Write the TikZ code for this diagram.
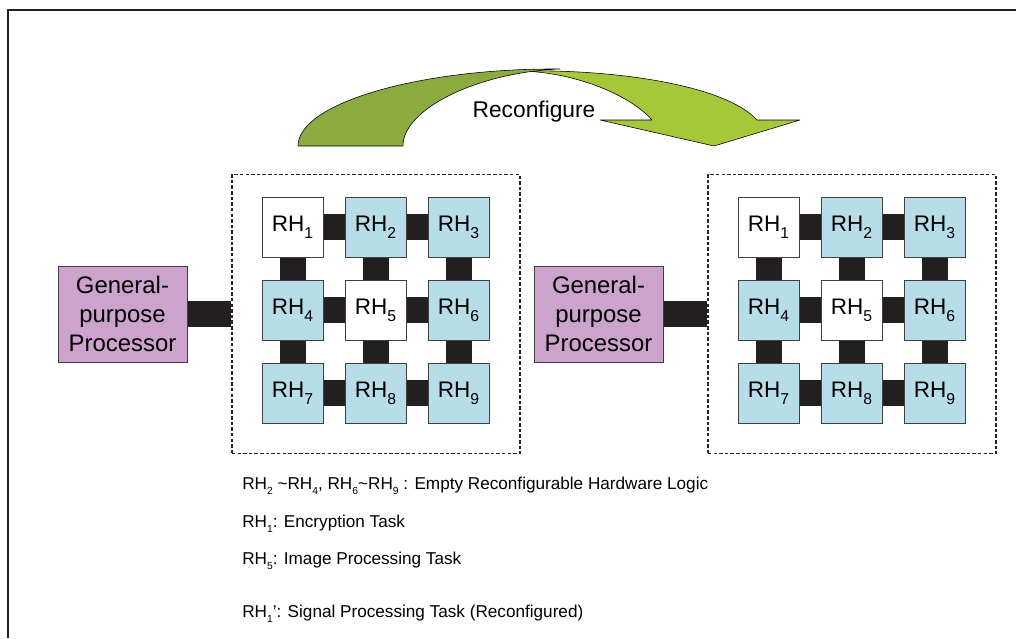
\documentclass[tikz,border=0pt]{standalone}
\usepackage{fontspec}
\setmainfont{Liberation Sans}
\usetikzlibrary{backgrounds}
\definecolor{procfill}{RGB}{204,163,204}
\definecolor{rhfill}{RGB}{183,221,232}
\definecolor{linkblack}{RGB}{35,31,32}
\definecolor{arrowdark}{RGB}{137,171,63}
\definecolor{arrowlight}{RGB}{165,200,58}
% lowered index digit
\newcommand\lsub[2][0.7]{\raisebox{-0.32em}{\scalebox{#1}{#2}}}
\begin{document}
\begin{tikzpicture}[
			x=0.025cm, y=-0.025cm,
			rh/.style={draw=black!75, line width=0.5pt, fill=rhfill, inner sep=0pt,
					minimum width=1.525cm, minimum height=1.5cm,
					font=\fontsize{16}{19}\selectfont},
			task/.style={rh, fill=white},
			proc/.style={draw=black!75, line width=0.5pt, fill=procfill, inner sep=0pt,
					minimum width=3.225cm, minimum height=2.4cm, align=center,
					font=\fontsize{17}{20.4}\selectfont},
			board/.style={draw=black!85, line width=0.9pt, dash pattern=on 2.5pt off 1.5pt,
					minimum width=7.2cm, minimum height=6.975cm},
			link/.style={draw=linkblack, line width=0.65cm},
			note/.style={anchor=base west, inner sep=0pt, font=\fontsize{12.2}{14}\selectfont},
			ribbon/.style={draw=black, line width=0.4pt, line join=round}
		]
		\useasboundingbox (0,0) rectangle (1016,638);
		\draw[line width=1.4pt, color=linkblack] (8,638) -- (8,10) -- (1016,10);

		% curved arrow
		\filldraw[ribbon, fill=arrowlight] (520,71) .. controls (615,69) and (725,85) .. (757,120)
			-- (800,120) -- (714,146) -- (600,120) -- (652,120)
			.. controls (630,95) and (575,72) .. (520,71) -- cycle;
		\filldraw[ribbon, fill=arrowdark] (298,146) .. controls (298,103) and (420,68) .. (560,69)
			.. controls (480,72) and (403,108) .. (403,146) -- cycle;
		\node[anchor=base, inner sep=0pt, font=\fontsize{16.2}{19}\selectfont] (reconf) at (534,117) {Reconfigure};

		\foreach \p/\dx in {L/0,R/476}{
			\begin{scope}[shift={(\dx,0)}]
				\node[board] (\p-board) at (376,314) {};
				\node[proc] (\p-proc) at (122.5,314) {General-\\purpose\\Processor};
				\foreach \i in {1,...,9}{
					\pgfmathtruncatemacro\c{mod(\i-1,3)}
					\pgfmathtruncatemacro\r{(\i-1)/3}
					\ifnum\i=1 \def\st{task}\else\ifnum\i=5 \def\st{task}\else\def\st{rh}\fi\fi
					\node[\st] (\p-rh\i) at (292.5+83*\c,227+83*\r) {RH\lsub{\i}};
				}
				\begin{pgfonlayer}{background}
					\draw[link] (\p-proc.east) -- (\p-board.west);
					\foreach \a/\b in {1/2,2/3,4/5,5/6,7/8,8/9,1/4,4/7,2/5,5/8,3/6,6/9}
						\draw[link] (\p-rh\a) -- (\p-rh\b);
				\end{pgfonlayer}
			\end{scope}
		}

		\node[note] (note1) at (242,489) {RH\lsub[0.6]{2} \textasciitilde RH\lsub[0.6]{4}, RH\lsub[0.6]{6}\textasciitilde RH\lsub[0.6]{9} : Empty Reconfigurable Hardware Logic};
		\node[note] (note2) at (242,527) {RH\lsub[0.6]{1}: Encryption Task};
		\node[note] (note3) at (242,564) {RH\lsub[0.6]{5}: Image Processing Task};
		\node[note] (note4) at (242,617) {RH\lsub[0.6]{1}': Signal Processing Task (Reconfigured)};
	\end{tikzpicture}
\end{document}
